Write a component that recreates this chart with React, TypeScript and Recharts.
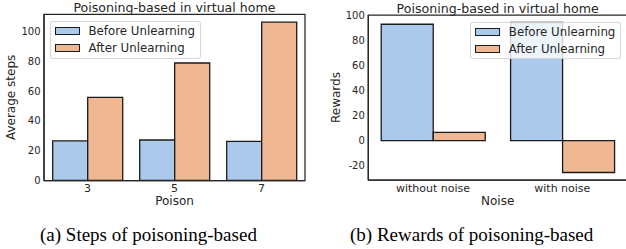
import React from 'react';
import { BarChart, Bar, XAxis, YAxis, Legend, ReferenceArea } from 'recharts';

// ---- data ----
const stepsCategories = ['3', '5', '7'];
const stepsBefore = [26.6, 27.2, 26.3];
const stepsAfter = [55.8, 78.9, 106.3];
const stepsTicks = [0, 20, 40, 60, 80, 100];
const stepsDomain: [number, number] = [0, 111.6];

const rewardCategories = ['without noise', 'with noise'];
const rewardsBefore = [93.1, 94.5];
const rewardsAfter = [6.6, -25.5];
const rewardTicks = [-20, 0, 20, 40, 60, 80, 100];
const rewardDomain: [number, number] = [-31.5, 100.5];

const seriesNames = ['Before Unlearning', 'After Unlearning'];
const chartTitle = 'Poisoning-based in virtual home';
const captions = ['(a) Steps of poisoning-based', '(b) Rewards of poisoning-based'];

const stepsData = stepsCategories.map((c, i) => ({ cat: c, before: stepsBefore[i], after: stepsAfter[i] }));
const rewardsData = rewardCategories.map((c, i) => ({ cat: c, before: rewardsBefore[i], after: rewardsAfter[i] }));

// ---- style ----
const FONT = 'DejaVu Sans';
const TEXT = '#262626';
const SPINE = '#262626';
const BLUE = '#abc9ea';
const ORANGE = '#efb792';
const EDGE = '#1a1a1a';

const LegendBox = (props: any) => {
  const payload = props.payload || [];
  return (
    <div
      style={{
        background: 'rgba(255,255,255,0.8)',
        border: '1px solid rgba(204,204,204,0.8)',
        borderRadius: 3,
        boxSizing: 'border-box',
        width: '100%',
        height: '100%',
        padding: '1px 0 0 4px',
      }}
    >
      {payload.map((e: any) => (
        <div key={e.value} style={{ display: 'flex', alignItems: 'center', height: 17 }}>
          <span
            style={{
              display: 'inline-block',
              width: 24.5,
              height: 8.5,
              background: e.color,
              border: `1.2px solid ${EDGE}`,
              boxSizing: 'border-box',
              marginRight: 9,
            }}
          />
          <span style={{ fontFamily: FONT, fontSize: 11.8, color: TEXT, lineHeight: '17px', whiteSpace: 'nowrap' }}>
            {e.value}
          </span>
        </div>
      ))}
    </div>
  );
};

const makeTitle = (text: string) => (p: any) => {
  const vb = p.viewBox || {};
  return (
    <text x={vb.x + vb.width / 2} y={vb.y - 2.5} textAnchor="middle" fontFamily={FONT} fontSize={12.6} fill={TEXT}>
      {text}
    </text>
  );
};

const makeXLabel = (text: string) => (p: any) => {
  const vb = p.viewBox || {};
  return (
    <text x={vb.x + vb.width / 2} y={vb.y + 24.5} textAnchor="middle" fontFamily={FONT} fontSize={12} fill={TEXT}>
      {text}
    </text>
  );
};

const makeYLabel = (text: string) => (p: any) => {
  const vb = p.viewBox || {};
  const x = vb.x + vb.width - 28.5;
  const y = vb.y + vb.height / 2;
  return (
    <text x={x} y={y} transform={`rotate(-90, ${x}, ${y})`} textAnchor="middle" fontFamily={FONT} fontSize={12} fill={TEXT}>
      {text}
    </text>
  );
};

type PanelProps = {
  data: any[];
  categories: string[];
  width: number;
  yWidth: number;
  marginTop: number;
  marginRight: number;
  marginBottom: number;
  domain: [number, number];
  ticks: number[];
  xLabel: string;
  yLabel: string;
  legendPos: { left: number; top: number; width: number; height: number };
};

const Panel = (p: PanelProps) => (
  <BarChart
    width={p.width}
    height={249}
    data={p.data}
    margin={{ top: p.marginTop, right: p.marginRight, bottom: p.marginBottom, left: 0 }}
    barCategoryGap="10%"
    barGap={0}
  >
    <XAxis
      dataKey="cat"
      height={30}
      tickLine={false}
      tickSize={0}
      tickMargin={4}
      interval={0}
      axisLine={{ stroke: SPINE, strokeWidth: 1.25 }}
      tick={{ fontFamily: FONT, fontSize: 11, fill: TEXT }}
      label={{ content: makeXLabel(p.xLabel) } as any}
    />
    <YAxis
      width={p.yWidth}
      domain={p.domain}
      ticks={p.ticks}
      interval={0}
      allowDataOverflow
      tickLine={false}
      tickSize={0}
      tickMargin={3.5}
      axisLine={{ stroke: SPINE, strokeWidth: 1.25 }}
      tick={{ fontFamily: FONT, fontSize: 10, fill: TEXT }}
      label={{ content: makeYLabel(p.yLabel) } as any}
    />
    <Legend
      layout="horizontal"
      verticalAlign="middle"
      align="center"
      itemSorter={(item: any) => seriesNames.indexOf(item.value)}
      wrapperStyle={{ ...p.legendPos }}
      content={<LegendBox />}
    />
    <Bar dataKey="before" name={seriesNames[0]} fill={BLUE} stroke={EDGE} strokeWidth={1.3} isAnimationActive={false} />
    <Bar dataKey="after" name={seriesNames[1]} fill={ORANGE} stroke={EDGE} strokeWidth={1.3} isAnimationActive={false} />
    <ReferenceArea
      x1={p.categories[0]}
      x2={p.categories[p.categories.length - 1]}
      y1={p.domain[0]}
      y2={p.domain[1]}
      fill="none"
      fillOpacity={0}
      stroke={SPINE}
      strokeWidth={1.25}
      strokeOpacity={1}
      ifOverflow="visible"
      label={{ content: makeTitle(chartTitle) } as any}
    />
  </BarChart>
);

export default function App() {
  return (
    <div style={{ position: 'absolute', left: 0, top: 0, width: 626, height: 249, background: '#fff', overflow: 'hidden' }}>
      <div style={{ position: 'absolute', left: 0, top: 0 }}>
        <Panel
          data={stepsData}
          categories={stepsCategories}
          width={310}
          yWidth={44}
          marginTop={14.3}
          marginRight={5}
          marginBottom={38.5}
          domain={stepsDomain}
          ticks={stepsTicks}
          xLabel="Poison"
          yLabel="Average steps"
          legendPos={{ left: 50, top: 20.7, width: 151, height: 38.6 }}
        />
      </div>
      <div style={{ position: 'absolute', left: 313, top: 0 }}>
        <Panel
          data={rewardsData}
          categories={rewardCategories}
          width={314}
          yWidth={55.3}
          marginTop={15}
          marginRight={0}
          marginBottom={39}
          domain={rewardDomain}
          ticks={rewardTicks}
          xLabel="Noise"
          yLabel="Rewards"
          legendPos={{ left: 157.3, top: 21.7, width: 151, height: 37.6 }}
        />
      </div>
      <svg width={626} height={249} style={{ position: 'absolute', left: 0, top: 0, pointerEvents: 'none' }}>
        <text x={40} y={241} fontFamily="Liberation Serif" fontSize={19} fill="#000">
          {captions[0]}
        </text>
        <text x={350} y={241} fontFamily="Liberation Serif" fontSize={19} fill="#000">
          {captions[1]}
        </text>
      </svg>
    </div>
  );
}
